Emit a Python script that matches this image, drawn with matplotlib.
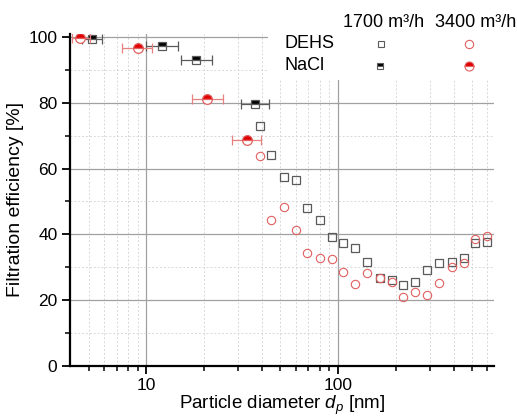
import matplotlib
matplotlib.use("Agg")
import matplotlib.pyplot as plt
from matplotlib.ticker import FixedLocator, NullFormatter
import numpy as np

plt.rcParams['font.family'] = ['Liberation Sans', 'DejaVu Sans']
plt.rcParams['mathtext.fontset'] = 'custom'
plt.rcParams['mathtext.rm'] = 'Liberation Sans'
plt.rcParams['mathtext.it'] = 'Liberation Sans:italic'

# DEHS (open symbols)
dehs_d = [39.0, 44.9, 52.0, 60.1, 69.2, 80.2, 92.6, 106.6, 123, 142, 165, 190,
          219, 253, 292, 337, 391, 451, 520, 601]
dehs_1700 = [73.0, 64.1, 57.4, 56.4, 47.9, 44.5, 39.2, 37.5, 35.9, 31.5, 26.7, 26.1,
             24.7, 25.4, 29.2, 31.3, 31.5, 32.9, 37.3, 37.8]
dehs_3400 = [63.7, 44.4, 48.4, 41.4, 34.3, 32.8, 32.5, 28.5, 24.8, 28.4, 26.7, 25.4,
             21.0, 22.4, 21.7, 25.2, 30.0, 31.3, 38.7, 39.4]

# NaCl (half filled symbols, with x error ranges)
nacl_1700_d = [5.2, 12.1, 18.2, 36.7]
nacl_1700_eff = [99.4, 97.3, 93.0, 79.5]
nacl_1700_lo = [4.6, 10.0, 15.1, 31.3]
nacl_1700_hi = [5.9, 14.7, 22.0, 43.5]

nacl_3400_d = [4.5, 9.0, 20.7, 33.3]
nacl_3400_eff = [99.8, 96.6, 81.1, 68.7]
nacl_3400_lo = [4.1, 7.5, 17.3, 28.0]
nacl_3400_hi = [5.1, 10.75, 25.1, 39.8]

col_blk = '#5a5a5a'
col_red = '#e06060'
col_red_bar = '#e88080'

fig = plt.figure(figsize=(5.17, 4.17), dpi=100)
ax = fig.add_axes([70/517, 1-366/417, 424/517, 332.3/417])

ax.set_xscale('log')
ax.set_xlim(4.0, 650)
ax.set_ylim(0, 101)

# grid
ax.xaxis.set_major_locator(FixedLocator([10, 100]))
ax.xaxis.set_minor_locator(FixedLocator([5, 6, 7, 8, 9, 20, 30, 40, 50, 60, 70, 80, 90,
                                         200, 300, 400, 500, 600]))
ax.xaxis.set_minor_formatter(NullFormatter())
ax.set_xticklabels(['10', '100'])
ax.yaxis.set_major_locator(FixedLocator([0, 20, 40, 60, 80, 100]))
ax.yaxis.set_minor_locator(FixedLocator([10, 30, 50, 70, 90]))
ax.grid(which='major', color='#a0a0a0', lw=0.9, ls='-')
ax.grid(which='minor', color='#d8d8d8', lw=0.7, ls=(0, (2, 2)))
ax.set_axisbelow(True)

for s in ['top', 'right']:
    ax.spines[s].set_visible(False)
for s in ['left', 'bottom']:
    ax.spines[s].set_linewidth(1.6)
ax.tick_params(which='major', direction='out', length=6, width=1.3, labelsize=12.5, pad=3)
ax.tick_params(which='minor', direction='out', length=3.5, width=1.1)

# DEHS
ax.plot(dehs_d, dehs_1700, ls='none', marker='s', ms=5.5, mfc='none', mec=col_blk, mew=0.9)
ax.plot(dehs_d, dehs_3400, ls='none', marker='o', ms=6, mfc='none', mec=col_red, mew=0.8)

# NaCl with error bars
d1 = np.array(nacl_1700_d)
ax.errorbar(d1, nacl_1700_eff,
            xerr=[d1 - np.array(nacl_1700_lo), np.array(nacl_1700_hi) - d1],
            fmt='none', ecolor=col_blk, elinewidth=0.9, capsize=3.5, capthick=0.9)
ax.plot(d1, nacl_1700_eff, ls='none', marker='s', ms=6, fillstyle='top',
        mfc='black', mfcalt='white', mec=col_blk, mew=0.9)
d2 = np.array(nacl_3400_d)
ax.errorbar(d2, nacl_3400_eff,
            xerr=[d2 - np.array(nacl_3400_lo), np.array(nacl_3400_hi) - d2],
            fmt='none', ecolor=col_red_bar, elinewidth=0.9, capsize=3.5, capthick=0.9)
ax.plot(d2, nacl_3400_eff, ls='none', marker='o', ms=7, fillstyle='top',
        mfc='#e00000', mfcalt='white', mec=col_red, mew=0.9)

ax.set_ylabel('Filtration efficiency [%]', fontsize=14, labelpad=3)
ax.set_xlabel('Particle diameter $d_p$ [nm]', fontsize=13.5, labelpad=0)

# legend table
lax = fig.add_axes([268/517, 1-80/417, 249/517, 80/417])
lax.set_xlim(268, 517)
lax.set_ylim(80, 0)
lax.axis('off')
lax.add_patch(plt.Rectangle((268, 0), 249, 80, color='white', zorder=0))
lax.text(384, 22.5, '1700 m³/h', fontsize=13, ha='center', va='center')
lax.text(476, 22.5, '3400 m³/h', fontsize=13, ha='center', va='center')
lax.text(284, 43.5, 'DEHS', fontsize=13, ha='left', va='center')
lax.text(284, 66, 'NaCl', fontsize=13, ha='left', va='center')
lax.plot([381], [43.5], marker='s', ms=5, mfc='none', mec=col_blk, mew=0.8)
lax.plot([469], [43.5], marker='o', ms=6, mfc='none', mec=col_red, mew=0.8)
lax.plot([380], [66], marker='s', ms=5, fillstyle='top', mfc='black', mfcalt='white',
         mec=col_blk, mew=0.8)
lax.plot([469], [66], marker='o', ms=6.5, fillstyle='top', mfc='#e00000', mfcalt='white',
         mec=col_red, mew=0.8)

fig.savefig('out.png', dpi=100)
